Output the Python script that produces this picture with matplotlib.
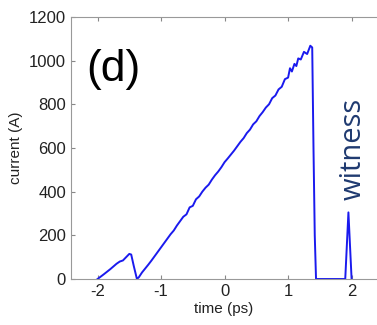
import matplotlib.pyplot as plt

# time (ps) and current (A)
t = [-2.0, -1.9, -1.8, -1.7, -1.65, -1.6, -1.55, -1.5, -1.47, -1.43, -1.38,
     -1.35, -1.30, -1.25, -1.20, -1.15, -1.10, -1.05, -1.00, -0.95, -0.90,
     -0.85, -0.80, -0.75, -0.70, -0.65, -0.60, -0.55, -0.50, -0.45, -0.40,
     -0.35, -0.30, -0.25, -0.20, -0.15, -0.10, -0.05, 0.00, 0.05, 0.10,
     0.15, 0.20, 0.25, 0.30, 0.35, 0.40, 0.45, 0.50, 0.55, 0.60,
     0.65, 0.70, 0.75, 0.80, 0.85, 0.90, 0.95, 1.00, 1.03, 1.06, 1.10,
     1.13, 1.16, 1.20, 1.25, 1.30, 1.35, 1.38, 1.40, 1.42, 1.44,
     1.90, 1.95, 2.00]
current = [0, 22, 45, 70, 80, 85, 100, 115, 112, 60, 0,
           8, 30, 48, 66, 85, 105, 125, 145, 165, 185,
           205, 222, 245, 265, 285, 296, 328, 335, 365, 378,
           400, 418, 432, 455, 475, 492, 512, 535, 552, 570,
           588, 608, 628, 645, 668, 684, 708, 722, 746, 764,
           785, 800, 828, 840, 868, 880, 915, 922, 965, 950,
           985, 975, 1010, 1005, 1040, 1030, 1068, 1060, 600, 200, 0,
           0, 305, 0]

xticks = [-2, -1, 0, 1, 2]
yticks = [0, 200, 400, 600, 800, 1000, 1200]

plt.rcParams['font.family'] = ['Liberation Sans', 'DejaVu Sans']

fig = plt.figure(figsize=(3.77, 3.25), dpi=100, facecolor="w")
ax = fig.add_axes([0.188, 0.1415, 0.812, 0.8065])

ax.plot(t, current, color="#1a1aee", linewidth=1.4)

ax.set_xlim(-2.42, 2.4)
ax.set_ylim(0, 1200)
ax.set_xticks(xticks)
ax.set_yticks(yticks)
ax.set_xticklabels([str(v) for v in xticks])
ax.tick_params(direction="in", top=True, right=False, labelsize=12,
               colors="#888888", labelcolor="#222222", length=3)
for s in ["left", "bottom", "top"]:
    ax.spines[s].set_color("#999999")
ax.spines["right"].set_visible(False)

ax.set_xlabel("time (ps)", fontsize=11, color="#222222", labelpad=2)
ax.set_ylabel("current (A)", fontsize=11, color="#222222", labelpad=4)

ax.text(-2.18, 960, "(d)", fontsize=32, va="center", ha="left", color="black")
ax.text(2.02, 595, "witness", fontsize=21, rotation=90, va="center", ha="center",
        color="#1f3a70", family=["Open Sans", "DejaVu Sans"])

fig.savefig("out.png", dpi=100)
